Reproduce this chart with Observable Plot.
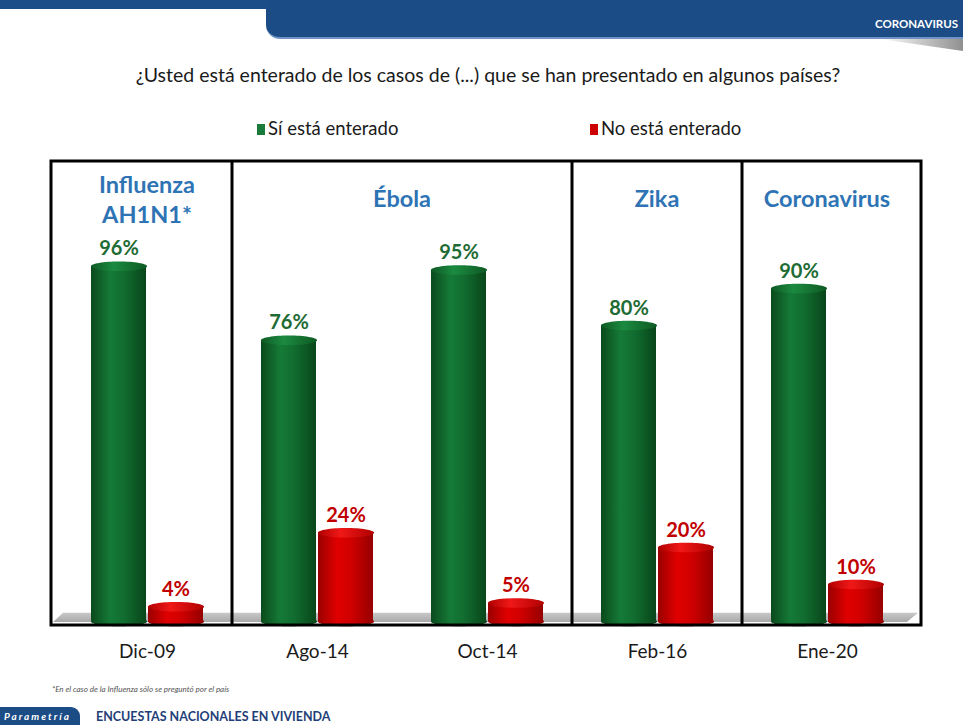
<!DOCTYPE html>
<html>
<head>
<meta charset="utf-8">
<script src="https://cdn.jsdelivr.net/npm/d3@7"></script>
<script src="https://cdn.jsdelivr.net/npm/@observablehq/plot@0.6"></script>
<style>
  body { margin: 0; background: #fff; }
  #wrap { position: relative; width: 963px; height: 725px; overflow: hidden; background: #fff; font-family: Lato, "Open Sans", sans-serif; }
  .abs { position: absolute; white-space: nowrap; }
</style>
</head>
<body>
<svg width="0" height="0" style="position:absolute">
  <defs>
    <linearGradient id="gGreen" x1="0" x2="1" y1="0" y2="0">
      <stop offset="0" stop-color="#0a4a1c"/>
      <stop offset="0.35" stop-color="#157a37"/>
      <stop offset="0.6" stop-color="#116d30"/>
      <stop offset="1" stop-color="#09461a"/>
    </linearGradient>
    <linearGradient id="gGreenTop" x1="0" x2="1" y1="0" y2="0">
      <stop offset="0" stop-color="#0e5a24"/>
      <stop offset="0.4" stop-color="#1b8a40"/>
      <stop offset="1" stop-color="#0e5a24"/>
    </linearGradient>
    <linearGradient id="gRed" x1="0" x2="1" y1="0" y2="0">
      <stop offset="0" stop-color="#9a0000"/>
      <stop offset="0.35" stop-color="#e00000"/>
      <stop offset="0.6" stop-color="#d00000"/>
      <stop offset="1" stop-color="#960000"/>
    </linearGradient>
    <linearGradient id="gRedTop" x1="0" x2="1" y1="0" y2="0">
      <stop offset="0" stop-color="#b00000"/>
      <stop offset="0.4" stop-color="#f01818"/>
      <stop offset="1" stop-color="#b00000"/>
    </linearGradient>
    <linearGradient id="gFloor" x1="0" x2="0" y1="0" y2="1">
      <stop offset="0" stop-color="#c8c8c8"/>
      <stop offset="1" stop-color="#a8a8a8"/>
    </linearGradient>
  </defs>
</svg>
<div id="wrap">
  <div class="abs" style="left:0;top:0;width:963px;height:9px;background:#1c4d88;"></div>
  <div class="abs" style="left:266px;top:0;width:697px;height:37px;background:#1b4c86;border-bottom-left-radius:14px;border-bottom:2px solid #6f95c4;"></div>
  <div class="abs" style="left:880px;top:39px;width:83px;height:12px;background:linear-gradient(90deg,#ffffff,#909090);clip-path:polygon(0 0,100% 0,100% 100%);"></div>
  <div class="abs" style="right:5px;top:17px;color:#fff;font-weight:bold;font-size:11.5px;">CORONAVIRUS</div>
  <div class="abs" style="left:0;top:63px;width:976px;text-align:center;font-size:19.5px;color:#1a1a1a;">¿Usted está enterado de los casos de (...) que se han presentado en algunos países?</div>
  <div id="legend"></div>
  <div id="chart" class="abs" style="left:0;top:150px;"></div>
  <div class="abs" style="left:52px;top:684px;font-size:8px;color:#555;font-style:italic;">*En el caso de la Influenza sólo se preguntó por el país</div>
  <div class="abs" style="left:0;top:707px;width:80px;height:18px;background:#1b4c86;border-top-right-radius:9px;color:#fff;font-style:italic;font-weight:bold;font-size:10px;letter-spacing:2px;line-height:18px;text-indent:4px;">Parametría</div>
  <div class="abs" style="left:96px;top:709px;font-weight:bold;font-size:12.5px;color:#1f3f78;">ENCUESTAS NACIONALES EN VIVIENDA</div>
</div>
<script>
// ---- Data ----
const dates = ["Dic-09", "Ago-14", "Oct-14", "Feb-16", "Ene-20"];
const seriesNames = ["Sí está enterado", "No está enterado"];
const siValues = [96, 76, 95, 80, 90];
const noValues = [4, 24, 5, 20, 10];
const panelNames = ["Influenza\nAH1N1*", "Ébola", "Zika", "Coronavirus"];
const panelStart = ["Dic-09", "Ago-14", "Feb-16", "Ene-20"];
const panelEnd = ["Dic-09", "Oct-14", "Feb-16", "Ene-20"];
const seriesColors = ["#1a7a3a", "#cc0000"];
const labelColors = ["#1e6b34", "#c00000"];

// ---- Legend ----
const legend = document.getElementById("legend");
const legendX = [257, 590];
seriesNames.forEach((s, i) => {
  const sw = document.createElement("div");
  sw.className = "abs";
  sw.style.cssText = `left:${legendX[i]}px;top:124px;width:8px;height:11px;background:${seriesColors[i]};`;
  legend.appendChild(sw);
  const t = document.createElement("div");
  t.className = "abs";
  t.style.cssText = `left:${legendX[i] + 11}px;top:117px;font-size:18.5px;color:#1a1a1a;`;
  t.textContent = s;
  legend.appendChild(t);
});

// ---- Rows ----
const siRows = dates.map((d, i) => ({date: d, series: seriesNames[0], value: siValues[i]}));
const noRows = dates.map((d, i) => ({date: d, series: seriesNames[1], value: noValues[i]}));

// ellipse symbol for cylinder caps
const ellipse = {
  draw(context, size) {
    const rx = Math.sqrt(size / Math.PI);
    const ry = rx * 0.17;
    const k = 0.5523;
    context.moveTo(rx, 0);
    context.bezierCurveTo(rx, ry * k, rx * k, ry, 0, ry);
    context.bezierCurveTo(-rx * k, ry, -rx, ry * k, -rx, 0);
    context.bezierCurveTo(-rx, -ry * k, -rx * k, -ry, 0, -ry);
    context.bezierCurveTo(rx * k, -ry, rx, -ry * k, rx, 0);
    context.closePath();
  }
};

const barFill = ["url(#gGreen)", "url(#gRed)"];
const capFill = ["url(#gGreenTop)", "url(#gRedTop)"];
const rowsBySeries = [siRows, noRows];

const marks = [];
rowsBySeries.forEach((rows, i) => {
  marks.push(Plot.dot(rows, {fx: "date", x: "series", y: 0, r: 28, symbol: ellipse, fill: barFill[i], stroke: "none"}));
  marks.push(Plot.barY(rows, {fx: "date", x: "series", y: "value", fill: barFill[i], insetLeft: 0, insetRight: 0}));
  marks.push(Plot.dot(rows, {fx: "date", x: "series", y: "value", r: 28, symbol: ellipse, fill: capFill[i], stroke: "none"}));
  marks.push(Plot.text(rows, {fx: "date", x: "series", y: "value", text: d => d.value + "%", lineAnchor: "bottom", dy: -11, fill: labelColors[i], fontWeight: "bold", fontSize: 20}));
});
marks.push(Plot.text(dates, {fx: d => d, text: d => d, frameAnchor: "bottom", dy: 36, fontSize: 19, fill: "#1a1a1a"}));

const plot = Plot.plot({
  width: 963,
  height: 525,
  marginLeft: 62,
  marginRight: 51,
  marginTop: 101,
  marginBottom: 54,
  style: {fontFamily: "Lato, 'Open Sans', sans-serif", background: "transparent", overflow: "visible"},
  fx: {domain: dates, padding: 0, axis: null},
  x: {domain: seriesNames, paddingInner: 0.034, paddingOuter: 0.483, axis: null},
  y: {domain: [0, 100], axis: null},
  marks
});
document.getElementById("chart").appendChild(plot);

// ---- decorations derived from the plot's scales ----
const svg = d3.select(plot);
const fx = plot.scale("fx");
const y = plot.scale("y");
const bw = fx.bandwidth;
const left = fx.apply(dates[0]);
const right = fx.apply(dates[dates.length - 1]) + bw;
const y0 = y.apply(0);

// floor
const floorTop = y.apply(2.2);
const floorBot = y0 + 1;
svg.insert("polygon", ":first-child")
  .attr("points", [[left + 1, floorTop], [right + 6, floorTop], [right - 5, floorBot], [left - 9, floorBot]].map(p => p.join(",")).join(" "))
  .attr("fill", "url(#gFloor)");

// panel boxes
const boxTop = y.apply(100) - 90;
const boxBot = y0 + 4;
const g = svg.append("g");
g.append("rect")
  .attr("x", left - 11).attr("y", boxTop)
  .attr("width", right + 9 - (left - 11)).attr("height", boxBot - boxTop)
  .attr("fill", "none").attr("stroke", "#000").attr("stroke-width", 3);
panelStart.slice(1).forEach(d => {
  const x = fx.apply(d);
  g.append("line").attr("x1", x).attr("x2", x).attr("y1", boxTop).attr("y2", boxBot)
    .attr("stroke", "#000").attr("stroke-width", 3);
});
// panel titles
panelNames.forEach((name, i) => {
  const cx = (fx.apply(panelStart[i]) + fx.apply(panelEnd[i]) + bw) / 2;
  const lines = name.split("\n");
  const t = g.append("text")
    .attr("text-anchor", "middle")
    .attr("fill", "#2e74b5")
    .attr("font-weight", "bold")
    .attr("font-size", 23.5);
  const startY = lines.length > 1 ? boxTop + 32 : boxTop + 46;
  lines.forEach((ln, j) => {
    t.append("tspan").attr("x", cx).attr("y", startY + j * 30).text(ln);
  });
});
</script>
</body>
</html>
